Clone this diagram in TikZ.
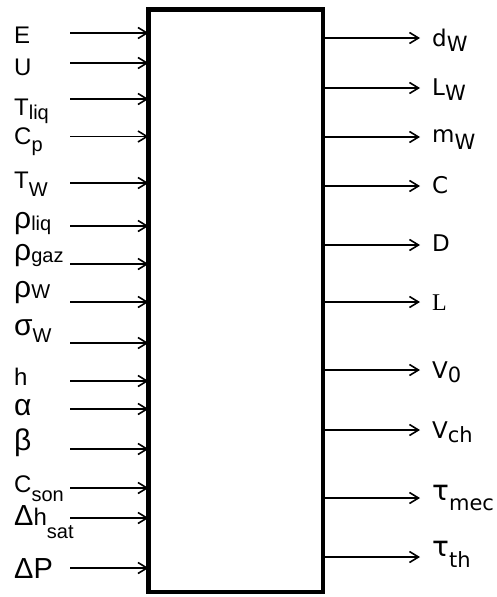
\documentclass[tikz,border=0pt]{standalone}
\usepackage{fontspec}
\setmainfont{Liberation Sans}
\newfontfamily\rfont{DejaVu Sans}
\newfontfamily\tnr{Liberation Serif}
\usetikzlibrary{arrows.meta}
\newcommand\lsb[2][5pt]{\raisebox{-#1}{\fontsize{20}{20}\selectfont #2}}
\newcommand\rsb[2][6pt]{\raisebox{-#1}{\fontsize{21}{21}\selectfont #2}}
\newcommand\gk[1]{{\fontsize{30}{30}\selectfont #1}}
\newcommand\dl[1]{{\fontsize{29}{29}\selectfont #1}}
\newcommand\tu{{\fontsize{28}{28}\selectfont τ}}
\tikzset{
  arr/.style={line width=1.6pt,-{Straight Barb[length=9pt,width=11pt]}},
  lab/.style={anchor=base west,inner sep=0pt,font=\fontsize{24}{24}\selectfont},
  rlab/.style={anchor=base west,inner sep=0pt,font=\rfont\fontsize{23}{23}\selectfont},
  blk/.style={draw,line width=4.5pt,inner sep=0pt,outer sep=0pt,anchor=north west,minimum width=174.5pt,minimum height=582.5pt}
}
\begin{document}
\begin{tikzpicture}[x=1pt,y=-1pt]
\useasboundingbox[fill=white] (0,0) rectangle (496,597);
\node[blk] (box) at (148.5,9.5) {};
% inputs
\foreach \n/\y/\b/\t in {
  1/33/43/{E},
  2/63/75/{U},
  3/99/115/{T\lsb[4pt]{liq}},
  4/136.5/144/{C\lsb[7pt]{p}},
  5/183/188/{T\lsb[8pt]{W}},
  6/226/228/{\gk{ρ}\lsb[2pt]{liq}},
  7/264/260/{\gk{ρ}\lsb[2pt]{gaz}},
  8/302/297/{\gk{ρ}\lsb[1pt]{W}},
  9/343/335/{\gk{σ}\lsb[7pt]{W}},
  10/381/385/{h},
  11/409/415/{\gk{α}},
  12/449/450/{\gk{β}},
  13/488/492/{C\lsb[9pt]{son}},
  14/518/525/{\dl{Δ}h\lsb[13pt]{sat}},
  15/568/578/{\dl{ΔP}}}{
  \coordinate (in\n) at (70,\y);
  \node[lab] (lab\n) at (14,\b) {\t};
  \draw[arr] (in\n) -- (in\n -| box.west);
}
% outputs
\foreach \n/\y/\b/\t in {
  1/38/46/{d\rsb[5pt]{W}},
  2/88/95/{L\rsb[5pt]{W}},
  3/137/142/{m\rsb[7pt]{W}},
  4/186/193/{C},
  5/245/251/{D},
  6/302/310/{{\tnr\fontsize{24}{24}\selectfont L}},
  7/370/378/{V\rsb[4pt]{0}},
  8/430/438/{V\rsb[4pt]{ch}},
  9/498/500/{\tu\rsb[10pt]{mec}},
  10/557/556/{\tu\rsb[11pt]{th}}}{
  \coordinate (out\n) at (420,\y);
  \node[rlab] (rlab\n) at (432,\b) {\t};
  \draw[arr] (out\n -| box.east) -- (out\n);
}
\end{tikzpicture}
\end{document}
